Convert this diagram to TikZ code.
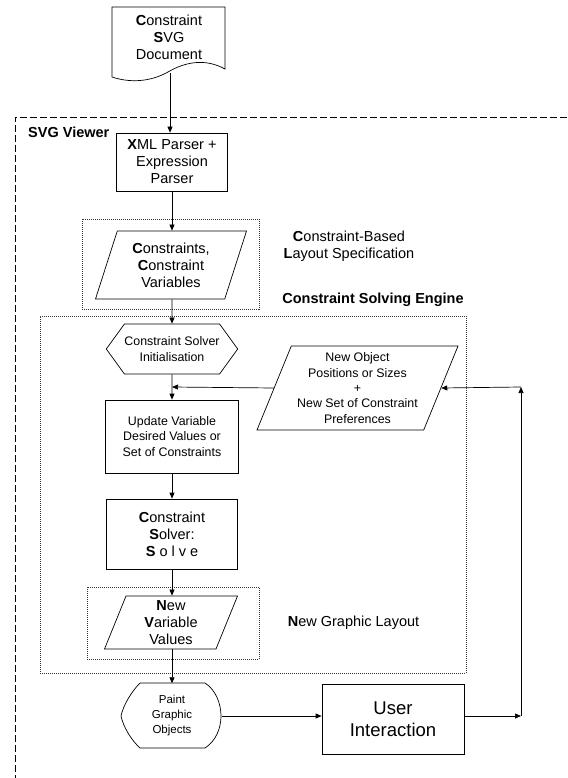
\documentclass[tikz,border=0pt]{standalone}
\usepackage{fontspec}
\setmainfont{Liberation Sans}
\usetikzlibrary{arrows.meta,positioning,calc,shapes.geometric,shapes.symbols}
\newcommand{\bigtxt}{\fontsize{14.5}{17}\selectfont}
\newcommand{\midtxt}{\fontsize{12.4}{15.3}\selectfont}
\tikzset{
  lbl/.style={align=center,inner sep=0pt,font=\bigtxt},
  procbox/.style={rectangle,draw,line width=0.7pt,align=center,inner sep=2pt,font=\bigtxt},
  iobox/.style={trapezium,trapezium left angle=64,trapezium right angle=116,trapezium stretches body,draw,line width=0.7pt,align=center,inner sep=0pt,font=\bigtxt},
  prepbox/.style={signal,signal to=east and west,signal pointer angle=108,draw,line width=0.7pt,align=center,inner sep=0pt,font=\midtxt},
  groupbox/.style={rectangle,draw=black!80,line width=0.6pt,dash pattern=on 1pt off 1pt,inner sep=0pt},
  viewerline/.style={line width=0.8pt,dash pattern=on 7pt off 3pt},
  outline/.style={draw,line width=0.7pt},
  flow/.style={-{Triangle[length=6pt,width=5pt]},line width=0.7pt}
}
\begin{document}
\begin{tikzpicture}[x=1pt,y=-1pt]
\useasboundingbox (0,0) rectangle (567,778);
% source document
\draw[outline] (112,7) -- (225,7) -- (225,69) .. controls (205,58) and (185,62) .. (168,72) .. controls (150,82) and (130,83) .. (112,77) -- cycle;
\node[lbl] (doc) at (169,37) {\textbf{C}onstraint\\\textbf{S}VG\\Document};
\coordinate (docb) at (170,73);
% viewer frame
\draw[viewerline] (567,117) -- (15,117) -- (15,778);
\node[lbl,anchor=west] (viewer) at (28,132) {\textbf{SVG Viewer}};
\node[procbox,minimum width=111pt,minimum height=58pt] (xml) at (172,162) {\textbf{X}ML Parser +\\Expression\\Parser};
% layout specification
\node[groupbox,minimum width=177pt,minimum height=90pt] (spec) at (170.5,264) {};
\node[iobox,minimum width=151pt,minimum height=68pt] (cons) at (171,265) {\textbf{C}onstraints,\\\textbf{C}onstraint\\Variables};
\node[lbl] (speclbl) at (349,246) {\textbf{C}onstraint-Based\\\textbf{L}ayout Specification};
% solving engine
\node[lbl] (enginelbl) at (373,300) {\textbf{Constraint Solving Engine}};
\node[groupbox,minimum width=426pt,minimum height=357pt] (engine) at (253,494.5) {};
\node[prepbox,minimum width=130pt,minimum height=50pt] (init) at (172,349) {Constraint Solver\\Initialisation};
\coordinate (join) at (172,387);
\node[procbox,font=\midtxt,minimum width=133pt,minimum height=73pt] (update) at (172,436.5) {Update Variable\\Desired Values or\\Set of Constraints};
\node[iobox,font=\midtxt,minimum width=201pt,minimum height=84pt] (newobj) at (357.5,388) {New Object\\Positions or Sizes\\+\\New Set of Constraint\\Preferences};
\node[procbox,minimum width=131pt,minimum height=70pt] (solve) at (172,534) {\textbf{C}onstraint\\\textbf{S}olver:\\\textbf{S} o l v e};
% graphic layout
\node[groupbox,minimum width=172pt,minimum height=72pt] (layout) at (173,623) {};
\node[iobox,minimum width=133pt,minimum height=53pt] (newvar) at (171,622.5) {\textbf{N}ew\\\textbf{V}ariable\\Values};
\node[lbl] (layoutlbl) at (353.5,623) {\textbf{N}ew Graphic Layout};
% output and interaction
\draw[outline] (140,683) -- (205,683) .. controls (216,690) and (221,704) .. (221,716) .. controls (221,728) and (216,741) .. (205,748) -- (140,748) .. controls (131,740) and (123,726) .. (121,716) .. controls (123,706) and (131,692) .. (140,683) -- cycle;
\node[align=center,inner sep=0pt,minimum width=100pt,minimum height=65pt,font=\fontsize{11.5}{15}\selectfont] (paint) at (172,716) {Paint\\Graphic\\Objects};
\node[procbox,font=\fontsize{18.5}{21.7}\selectfont,minimum width=142pt,minimum height=70pt] (user) at (393,719) {User\\Interaction};
\coordinate (loopb) at (521,716);
\coordinate (loopt) at (521,387);
% connectors
\draw[flow] (docb) -- (docb |- xml.north);
\draw[flow] (xml) -- (xml |- cons.north);
\draw[flow] (cons.south -| init) -- (init);
\draw[flow] (init) -- (update);
\draw[flow] (newobj.west) -- (join);
\draw[flow] (update) -- (solve);
\draw[flow] (solve) -- (solve |- newvar.north);
\draw[flow] (newvar.south -| paint) -- (paint);
\draw[flow] (paint.east) -- (paint.east -| user.west);
\draw[flow] (user.east |- loopb) -- (loopb);
\draw[flow] (loopb) -- (loopt);
\draw[flow] (loopt) -- (newobj.east);
\end{tikzpicture}
\end{document}
